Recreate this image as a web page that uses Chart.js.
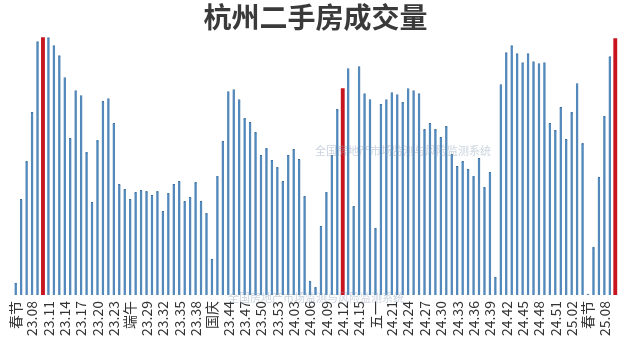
<!DOCTYPE html>
<html>
<head>
<meta charset="utf-8">
<script src="https://cdn.jsdelivr.net/npm/chart.js@4/dist/chart.umd.min.js"></script>
<style>
html,body{margin:0;padding:0;background:#ffffff;}
#wrap{width:640px;height:358px;position:relative;}
</style>
</head>
<body>
<div id="wrap"><canvas id="c" width="640" height="358"></canvas></div>
<script>
const chartTitle = '杭州二手房成交量';

const weeks = [
 '23.05','23.06','23.07','23.08','23.09','23.10','23.11','23.12','23.13','23.14',
 '23.15','23.16','23.17','23.18','23.19','23.20','23.21','23.22','23.23','23.24',
 '23.25','23.26','23.27','23.28','23.29','23.30','23.31','23.32','23.33','23.34',
 '23.35','23.36','23.37','23.38','23.39','23.40','23.41','23.42','23.43','23.44',
 '23.45','23.46','23.47','23.48','23.49','23.50','23.51','23.52','23.53',
 '24.01','24.02','24.03','24.04','24.05','24.06','24.07','24.08','24.09','24.10',
 '24.11','24.12','24.13','24.14','24.15','24.16','24.17','24.18','24.19','24.20',
 '24.21','24.22','24.23','24.24','24.25','24.26','24.27','24.28','24.29','24.30',
 '24.31','24.32','24.33','24.34','24.35','24.36','24.37','24.38','24.39','24.40',
 '24.41','24.42','24.43','24.44','24.45','24.46','24.47','24.48','24.49','24.50',
 '24.51','24.52',
 '25.01','25.02','25.03','25.04','25.05','25.06','25.07','25.08','25.09','25.10'
];

const volumes = [
 120, 960,1340,1830,2540,2580,2580,2500,2400,2180,
 1570,2050,2000,1430, 930,1550,1940,1970,1720,1110,
 1060, 960,1030,1050,1040,1000,1040, 840,1020,1110,
 1140, 940, 980,1130, 940, 820, 360,1190,1540,2040,
 2060,1960,1770,1730,1630,1400,1470,1350,1280,
 1140,1400,1460,1360, 990, 140,  80, 690,1030,1400,
 1860,2070,2270, 890,2290,2020,1960, 670,1910,1960,
 2030,2010,1930,2070,2050,2020,1660,1720,1660,1580,
 1690,1410,1290,1340,1260,1190,1370,1080,1230, 180,
 2110,2430,2500,2420,2330,2420,2340,2320,2330,1720,
 1650,1880,
 1560,1830,2120,1520,  10, 480,1180,1790,2390,2570
];

// weeks shown in red (same week each year)
const highlightWeeks = ['23.10','24.12','25.10'];

// every third week gets a tick label
const tickLabels = [
 '春节','23.08','23.11','23.14','23.17','23.20','23.23','端午','23.29','23.32',
 '23.35','23.38','国庆','23.44','23.47','23.50','23.53','24.03','24.06','24.09',
 '24.12','24.15','五一','24.21','24.24','24.27','24.30','24.33','24.36','24.39',
 '24.42','24.45','24.48','24.51','25.02','春节','25.08'
];

const watermarkText = '全国房地产市场监测与风险监测系统';

const blueData = volumes.map((v,i)=> highlightWeeks.includes(weeks[i]) ? null : v);
const redData  = volumes.map((v,i)=> highlightWeeks.includes(weeks[i]) ? v : null);

const watermark = {
  id:'watermark',
  afterDatasetsDraw(chart){
    const ctx = chart.ctx;
    ctx.save();
    ctx.font = '11px "Noto Sans CJK SC"';
    ctx.fillStyle = 'rgba(140,160,185,0.45)';
    ctx.textAlign = 'center';
    ctx.textBaseline = 'middle';
    ctx.fillText(watermarkText, 403, 151);
    ctx.fillText(watermarkText, 316, 298);
    ctx.restore();
  }
};

new Chart(document.getElementById('c'), {
  type:'bar',
  data:{
    labels: weeks,
    datasets:[
      {data: blueData, backgroundColor:'#5489bb', borderColor:'#3f6f9c', borderWidth:{top:1,left:0,right:0,bottom:0}, barThickness:2.4, grouped:false},
      {data: redData, backgroundColor:'#c8141e', barThickness:3.2, grouped:false}
    ]
  },
  options:{
    responsive:false,
    animation:false,
    layout:{padding:{left:13, right:22, top:0, bottom:16}},
    plugins:{
      legend:{display:false},
      tooltip:{enabled:false},
      title:{
        display:true, text: chartTitle,
        font:{family:'"Noto Sans CJK SC"', size:28, weight:'bold'},
        color:'#3a3a3a',
        padding:{top:1, bottom:1}
      }
    },
    scales:{
      x:{
        offset:true,
        grid:{display:false, drawTicks:false},
        border:{display:false},
        ticks:{
          autoSkip:false, minRotation:90, maxRotation:90, padding:6,
          font:{family:'"Noto Sans CJK SC"', size:14},
          color:'#333333',
          callback:(val, idx)=> idx % 3 === 0 ? tickLabels[idx/3] : ''
        }
      },
      y:{
        display:false, min:0, max:2600
      }
    }
  },
  plugins:[watermark]
});
</script>
</body>
</html>
